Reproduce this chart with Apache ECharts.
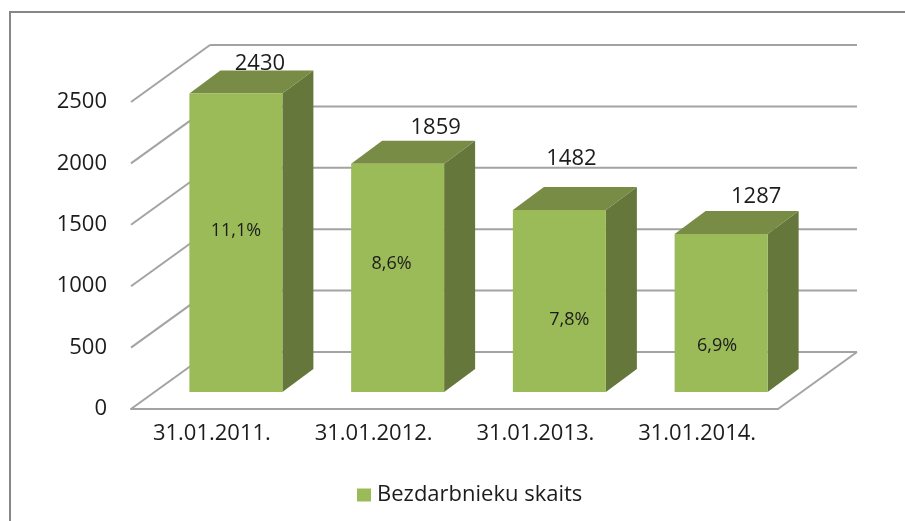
<!DOCTYPE html>
<html>
<head>
<meta charset="utf-8">
<style>
  html, body { margin: 0; padding: 0; background: #fff; }
  #chart { width: 905px; height: 521px; }
</style>
</head>
<body>
<div id="chart"></div>
<script src="https://cdn.jsdelivr.net/npm/echarts@6/dist/echarts.min.js"></script>
<script>
const categories = ['31.01.2011.', '31.01.2012.', '31.01.2013.', '31.01.2014.']
const unemployed = [2430, 1859, 1482, 1287]
const shares = ['11,1%', '8,6%', '7,8%', '6,9%']
const yTicks = [0, 500, 1000, 1500, 2000, 2500]

const FONT = '"Open Sans", sans-serif'
const TEXT = '#1c1c1c'
const GRID_LINE = '#a3a3a3'

// fake 3D: the walls go back by this much, bars stand a bit inside the floor
const WALL_DX = 79
const WALL_DY = -57
const BAR_SHIFT_X = 24
const BAR_SHIFT_Y = -17
const BAR_DX = 31
const BAR_DY = -23
const BAR_WIDTH = 93

// labels were moved by hand in the original
const topLabelShift = [[24, 4], [38, -2], [12, -17], [35, -3]]
const innerLabelShift = [[0, 137], [-6, 100], [10, 110], [-4, 112]]

const chart = echarts.init(document.getElementById('chart'))

const line = (x1, y1, x2, y2) => ({
  type: 'line',
  shape: { x1, y1, x2, y2 },
  style: { stroke: GRID_LINE, lineWidth: 2 }
})

const renderWall = (params, api) => {
  const rect = params.coordSys
  const y = api.coord([0, api.value(0)])[1]
  const x0 = rect.x
  const x1 = rect.x + WALL_DX
  const children = [
    line(x0, y, x1, y + WALL_DY),
    line(x1, y + WALL_DY, rect.x + rect.width + WALL_DX, y + WALL_DY)
  ]
  if (api.value(0) === 0) {
    children.push(line(rect.x + rect.width, y, rect.x + rect.width + WALL_DX, y + WALL_DY))
  }
  return { type: 'group', children }
}

const renderBar = (params, api) => {
  const idx = params.dataIndex
  const base = api.coord([idx, 0])
  const top = api.coord([idx, api.value(1)])
  const cx = base[0] + BAR_SHIFT_X
  const l = cx - BAR_WIDTH / 2
  const r = cx + BAR_WIDTH / 2
  const yb = base[1] + BAR_SHIFT_Y
  const yt = top[1] + BAR_SHIFT_Y
  const lastY = yt + BAR_DY
  return {
    type: 'group',
    children: [
      {
        type: 'polygon',
        shape: { points: [[r, yt], [r + BAR_DX, lastY], [r + BAR_DX, yb + BAR_DY], [r, yb]] },
        style: { fill: '#65773a' }
      },
      {
        type: 'polygon',
        shape: { points: [[l, yt], [l + BAR_DX, lastY], [r + BAR_DX, lastY], [r, yt]] },
        style: { fill: '#788c45' }
      },
      {
        type: 'rect',
        shape: { x: l, y: yt, width: BAR_WIDTH, height: yb - yt },
        style: { fill: '#9bbb59' }
      },
      {
        type: 'text',
        style: {
          x: cx + topLabelShift[idx][0],
          y: lastY + topLabelShift[idx][1],
          text: String(api.value(1)),
          font: '22px ' + FONT,
          fill: TEXT,
          align: 'center',
          verticalAlign: 'bottom'
        }
      },
      {
        type: 'text',
        style: {
          x: cx + innerLabelShift[idx][0],
          y: yt + innerLabelShift[idx][1],
          text: shares[idx],
          font: '18px ' + FONT,
          fill: TEXT,
          align: 'center',
          verticalAlign: 'middle'
        }
      }
    ]
  }
}

chart.setOption({
  animation: false,
  backgroundColor: '#fff',
  grid: { left: 131, top: 102, width: 647, height: 307 },
  graphic: [
    {
      type: 'polyline',
      shape: { points: [[10, 521], [10, 12], [905, 12]] },
      style: { stroke: '#868686', lineWidth: 2, fill: 'none' }
    }
  ],
  legend: {
    data: ['Bezdarbnieku skaits'],
    left: 352,
    top: 479,
    icon: 'rect',
    itemWidth: 14,
    itemHeight: 13,
    itemGap: 6,
    textStyle: { fontFamily: FONT, fontSize: 22, color: TEXT, padding: [0, 0, 0, 1] }
  },
  xAxis: {
    type: 'category',
    data: categories,
    axisTick: { show: false },
    axisLine: { lineStyle: { color: GRID_LINE, width: 2 } },
    axisLabel: { fontFamily: FONT, fontSize: 22, color: TEXT, margin: 14 }
  },
  yAxis: {
    type: 'value',
    min: 0,
    max: 2500,
    interval: 500,
    axisLine: { show: false },
    axisTick: { show: false },
    splitLine: { show: false },
    axisLabel: { fontFamily: FONT, fontSize: 22, color: TEXT, margin: 24, formatter: v => String(v) }
  },
  series: [
    {
      type: 'custom',
      name: 'walls',
      renderItem: renderWall,
      encode: { y: 0 },
      data: yTicks.map(v => [v]),
      silent: true,
      z: 1
    },
    {
      type: 'custom',
      name: 'Bezdarbnieku skaits',
      renderItem: renderBar,
      encode: { x: 0, y: 1 },
      data: unemployed.map((v, i) => [i, v]),
      itemStyle: { color: '#9bbb59' },
      z: 2
    }
  ]
})
</script>
</body>
</html>
